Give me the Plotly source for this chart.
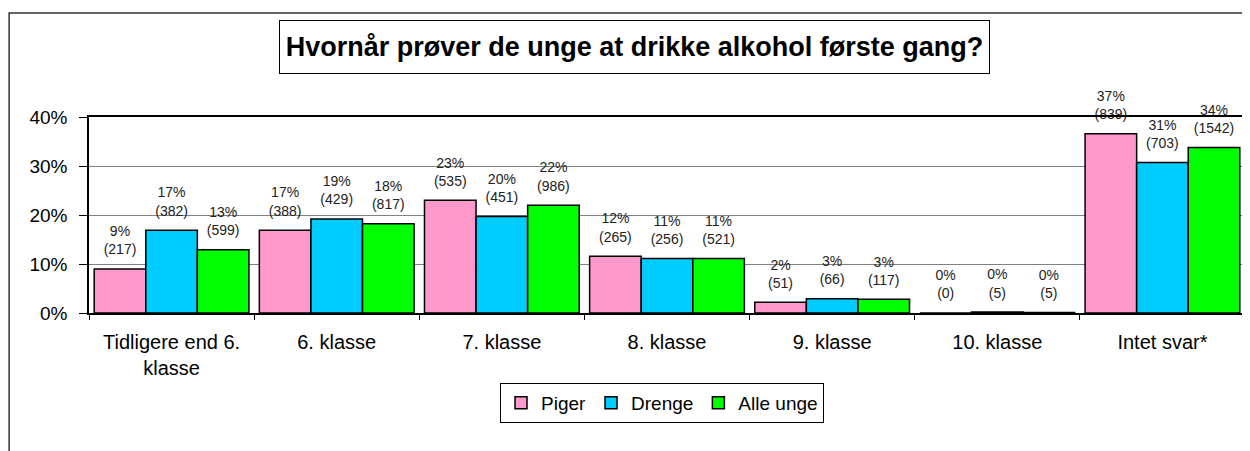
import plotly.graph_objects as go

categories = ["Tidligere end 6.<br>klasse", "6. klasse", "7. klasse", "8. klasse",
              "9. klasse", "10. klasse", "Intet svar*"]

piger_pct = [9.0, 16.9, 23.0, 11.6, 2.2, 0.0, 36.6]
drenge_pct = [16.9, 19.2, 19.7, 11.1, 2.9, 0.2, 30.7]
alle_pct = [12.9, 18.2, 22.0, 11.1, 2.8, 0.1, 33.8]

piger_lbl = [9, 17, 23, 12, 2, 0, 37]
drenge_lbl = [17, 19, 20, 11, 3, 0, 31]
alle_lbl = [13, 18, 22, 11, 3, 0, 34]

piger_n = [217, 388, 535, 265, 51, 0, 839]
drenge_n = [382, 429, 451, 256, 66, 5, 703]
alle_n = [599, 817, 986, 521, 117, 5, 1542]

series = [
    ("Piger", piger_pct, piger_lbl, piger_n, "#FF99CC"),
    ("Drenge", drenge_pct, drenge_lbl, drenge_n, "#00CCFF"),
    ("Alle unge", alle_pct, alle_lbl, alle_n, "#00FF00"),
]

FONT = "Liberation Sans, Arial, sans-serif"
BARGAP = 0.063

fig = go.Figure()
for name, pct, lbl, n, color in series:
    fig.add_trace(go.Bar(
        name=name, x=categories, y=[v / 100 for v in pct],
        marker=dict(color=color, line=dict(color="#000000", width=1.5)),
        hoverinfo="skip",
    ))
for name, pct, lbl, n, color in series:
    fig.add_trace(go.Scatter(
        name=name + " labels", x=categories, y=[v / 100 for v in pct],
        mode="markers+text", showlegend=False, cliponaxis=False,
        marker=dict(size=16, color="rgba(0,0,0,0)"),
        text=[f"{l}%<br>({c})" for l, c in zip(lbl, n)],
        textposition="top center",
        textfont=dict(family=FONT, size=14, color="#222222"),
        hoverinfo="skip",
    ))

# page body has an 8px margin, so the figure is 8px smaller and shifted
OFF = 8
W, H = 1250 - OFF, 451 - OFF
L, R, T, B = 81, 3, 109, 138
pw, ph = W - L - R, H - T - B

def px(x):
    return (x - OFF - L) / pw

def py(y):
    return (H - B - (y - OFF)) / ph

fig.update_layout(
    width=W, height=H,
    margin=dict(l=L, r=R, t=T, b=B, pad=0),
    paper_bgcolor="white", plot_bgcolor="white",
    barmode="group", bargap=BARGAP, bargroupgap=0,
    scattermode="group", scattergap=BARGAP,
    font=dict(family=FONT, color="#000000"),
    showlegend=True,
    legend=dict(
        orientation="h", x=px(663), xanchor="center", y=py(383), yanchor="top",
        bordercolor="#000000", borderwidth=1, bgcolor="white",
        font=dict(family=FONT, size=19), itemwidth=30, tracegroupgap=0,
    ),
    xaxis=dict(
        showline=True, linecolor="#000000", linewidth=1.5, mirror=True,
        ticks="outside", tickson="boundaries", ticklen=5, tickcolor="#000000",
        tickfont=dict(family=FONT, size=20), ticklabelstandoff=10,
        showgrid=False, fixedrange=True,
    ),
    yaxis=dict(
        range=[0, 0.4], dtick=0.1, tickformat=".0%",
        showline=True, linecolor="#000000", linewidth=1.5, mirror=True,
        ticks="outside", ticklen=8, tickcolor="#000000",
        tickfont=dict(family=FONT, size=19), ticklabelstandoff=8,
        showgrid=True, gridcolor="#808080", gridwidth=1, zeroline=False,
        fixedrange=True,
    ),
    shapes=[dict(
        type="rect", xref="paper", yref="paper",
        x0=px(9), x1=px(1262), y0=py(470), y1=py(13),
        line=dict(color="#333333", width=1.5), fillcolor="rgba(0,0,0,0)", layer="below",
    )],
    annotations=[dict(
        text="<b>Hvornår prøver de unge at drikke alkohol første gang?</b>",
        xref="paper", yref="paper", x=px(635.5), y=py(47),
        xanchor="center", yanchor="middle", showarrow=False,
        font=dict(family=FONT, size=27, color="#000000"),
        bordercolor="#000000", borderwidth=1, borderpad=2,
        width=705, height=48, bgcolor="white",
    )],
)

fig.write_html("out.html")
